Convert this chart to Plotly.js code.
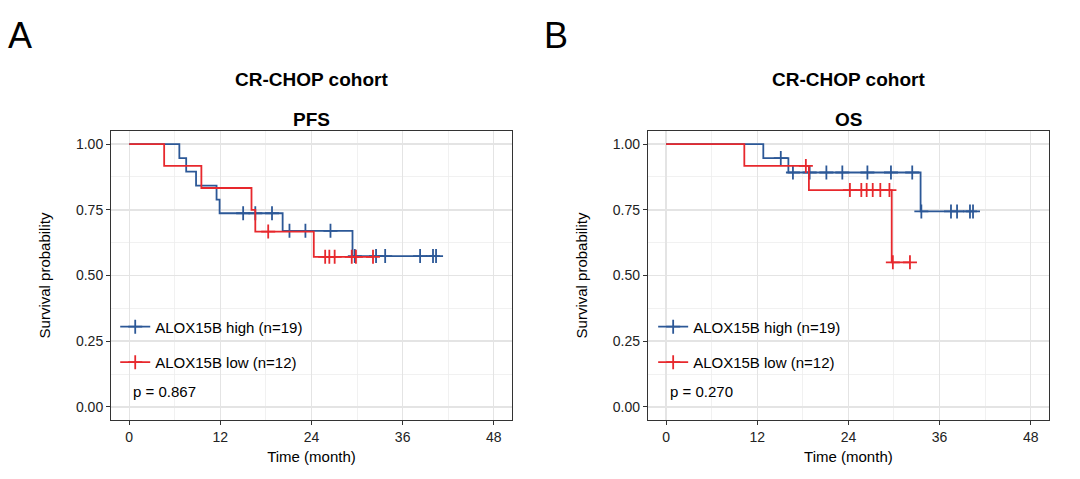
<!DOCTYPE html>
<html>
<head>
<meta charset="utf-8">
<script src="https://cdn.plot.ly/plotly-3.0.1.min.js"></script>
<style>html,body{margin:0;padding:0;background:#fff;}#chart{width:1080px;height:479px;}</style>
</head>
<body>
<div id="chart"></div>
<script>
// ---- Data (time in months, survival probability) ----
var groupNames = ['ALOX15B high (n=19)', 'ALOX15B low (n=12)'];

// PFS, ALOX15B high
var pfsHighStepTime = [0, 6.6, 7.5, 8.8, 11.5, 11.9, 20.2, 29.4];
var pfsHighStepSurv = [1.000, 0.947, 0.895, 0.842, 0.789, 0.737, 0.670, 0.574];
var pfsHighCensor   = [15.0, 16.6, 18.8, 21.1, 23.2, 26.5, 29.7, 32.5, 33.7, 38.3, 40.0, 40.4];
// PFS, ALOX15B low
var pfsLowStepTime = [0, 4.6, 9.5, 16.1, 16.6, 24.3];
var pfsLowStepSurv = [1.000, 0.917, 0.833, 0.750, 0.667, 0.571];
var pfsLowCensor   = [18.3, 25.8, 26.35, 27.05, 29.3, 29.85, 32.1];
// OS, ALOX15B high
var osHighStepTime = [0, 12.8, 16.1, 33.5];
var osHighStepSurv = [1.000, 0.947, 0.892, 0.744];
var osHighCensor   = [15.1, 16.7, 18.9, 21.1, 23.2, 26.5, 29.6, 32.4, 33.6, 37.5, 38.3, 40.0, 40.4];
// OS, ALOX15B low
var osLowStepTime = [0, 10.3, 18.8, 29.7];
var osLowStepSurv = [1.000, 0.917, 0.825, 0.550];
var osLowCensor   = [18.4, 24.2, 25.7, 26.4, 27.2, 28.2, 29.4, 29.85, 32.1];

var pValues = ['p = 0.867', 'p = 0.270'];
var panelTitles = ['PFS', 'OS'];
var cohortTitle = 'CR-CHOP cohort';
var xTickVals = [0, 12, 24, 36, 48];
var yTickVals = [0, 0.25, 0.5, 0.75, 1];

// ---- Styling ----
var FONT = 'Liberation Sans, Arial, Helvetica, sans-serif';
var BLUE = '#2C5897';
var RED = '#E7282D';

function levelAt(stepT, stepS, t) {
  var s = stepS[0];
  for (var i = 0; i < stepT.length; i++) { if (stepT[i] <= t) s = stepS[i]; }
  return s;
}

function kmTrace(stepT, stepS, censorT, name, color, xa, ya, legend) {
  var pts = [];
  stepT.forEach(function (t, i) { pts.push({t: t, s: stepS[i], c: 0}); });
  censorT.forEach(function (t) { pts.push({t: t, s: levelAt(stepT, stepS, t), c: 1}); });
  pts.sort(function (a, b) { return a.t - b.t || a.c - b.c; });
  var sel = [];
  pts.forEach(function (p, i) { if (p.c) sel.push(i); });
  return {
    type: 'scatter', mode: 'lines+markers', name: name,
    x: pts.map(function (p) { return p.t; }),
    y: pts.map(function (p) { return p.s; }),
    xaxis: xa, yaxis: ya, legend: legend, legendgroup: legend + name,
    line: {shape: 'hv', color: color, width: 1.8},
    marker: {symbol: 'cross-thin', size: 10, color: color, line: {color: color, width: 1.8}},
    selectedpoints: sel,
    selected: {marker: {opacity: 1}},
    unselected: {marker: {opacity: 0}},
    hoverinfo: 'x+y+name'
  };
}

var data = [
  kmTrace(pfsHighStepTime, pfsHighStepSurv, pfsHighCensor, groupNames[0], BLUE, 'x', 'y', 'legend'),
  kmTrace(pfsLowStepTime, pfsLowStepSurv, pfsLowCensor, groupNames[1], RED, 'x', 'y', 'legend'),
  kmTrace(osHighStepTime, osHighStepSurv, osHighCensor, groupNames[0], BLUE, 'x2', 'y2', 'legend2'),
  kmTrace(osLowStepTime, osLowStepSurv, osLowCensor, groupNames[1], RED, 'x2', 'y2', 'legend2')
];

function xAxis(domain, anchor) {
  return {
    domain: domain, anchor: anchor, range: [-2.4, 50.4], tickvals: xTickVals,
    ticks: 'outside', ticklen: 4, tickwidth: 1, tickcolor: '#333333',
    showline: true, mirror: true, linecolor: '#333333', linewidth: 1,
    showgrid: true, gridcolor: '#E4E4E4', gridwidth: 1.4, zeroline: false,
    minor: {dtick: 6, tick0: 0, showgrid: true, gridcolor: '#EEEEEE', gridwidth: 0.8, ticks: ''},
    tickfont: {family: FONT, size: 14, color: '#222222'},
    title: {text: 'Time (month)', font: {family: FONT, size: 15, color: '#000000'}, standoff: 7},
    fixedrange: true
  };
}
function yAxis(anchor) {
  return {
    domain: [0, 1], anchor: anchor, range: [-0.05, 1.05], tickvals: yTickVals, tickformat: '.2f',
    ticks: 'outside', ticklen: 4, tickwidth: 1, tickcolor: '#333333',
    showline: true, mirror: true, linecolor: '#333333', linewidth: 1,
    showgrid: true, gridcolor: '#E4E4E4', gridwidth: 1.4, zeroline: false,
    minor: {dtick: 0.125, tick0: 0, showgrid: true, gridcolor: '#EEEEEE', gridwidth: 0.8, ticks: ''},
    tickfont: {family: FONT, size: 14, color: '#222222'},
    title: {text: 'Survival probability', font: {family: FONT, size: 15, color: '#000000'}, standoff: 21},
    fixedrange: true
  };
}

function legendBox(x) {
  return {
    x: x, y: 0.379, xanchor: 'left', yanchor: 'top', xref: 'paper', yref: 'paper',
    bgcolor: 'rgba(0,0,0,0)', borderwidth: 0, traceorder: 'grouped', tracegroupgap: 13,
    font: {family: FONT, size: 15, color: '#000000'}, itemwidth: 30, itemclick: false, itemdoubleclick: false
  };
}

var annotations = [];
['x', 'x2'].forEach(function (xa, i) {
  annotations.push({xref: xa + ' domain', yref: 'paper', x: 0.5, y: 1.178, text: '<b>' + cohortTitle + '</b>',
    showarrow: false, xanchor: 'center', yanchor: 'middle', font: {family: FONT, size: 19, color: '#000000'}});
  annotations.push({xref: xa + ' domain', yref: 'paper', x: 0.5, y: 1.039, text: '<b>' + panelTitles[i] + '</b>',
    showarrow: false, xanchor: 'center', yanchor: 'middle', font: {family: FONT, size: 19, color: '#000000'}});
  annotations.push({xref: xa, yref: (i === 0 ? 'y' : 'y2'), x: 0.25, y: 0.06, text: pValues[i],
    showarrow: false, xanchor: 'left', yanchor: 'middle', font: {family: FONT, size: 15, color: '#000000'}});
});
annotations.push({xref: 'paper', yref: 'paper', x: -0.112, y: 1.33, text: 'A', showarrow: false,
  xanchor: 'left', yanchor: 'middle', font: {family: FONT, size: 36, color: '#000000'}});
annotations.push({xref: 'paper', yref: 'paper', x: 0.46, y: 1.33, text: 'B', showarrow: false,
  xanchor: 'left', yanchor: 'middle', font: {family: FONT, size: 36, color: '#000000'}});

var layout = {
  width: 1080, height: 479,
  margin: {l: 111, r: 31, t: 131, b: 59, pad: 0},
  paper_bgcolor: '#ffffff', plot_bgcolor: '#ffffff',
  showlegend: true,
  font: {family: FONT, color: '#000000'},
  xaxis: xAxis([0, 0.4275], 'y'),
  yaxis: yAxis('x'),
  xaxis2: xAxis([0.5723, 1], 'y2'),
  yaxis2: yAxis('x2'),
  legend: legendBox(0.0045),
  legend2: legendBox(0.578),
  annotations: annotations
};

Plotly.newPlot('chart', data, layout, {staticPlot: true, displayModeBar: false});
</script>
</body>
</html>
